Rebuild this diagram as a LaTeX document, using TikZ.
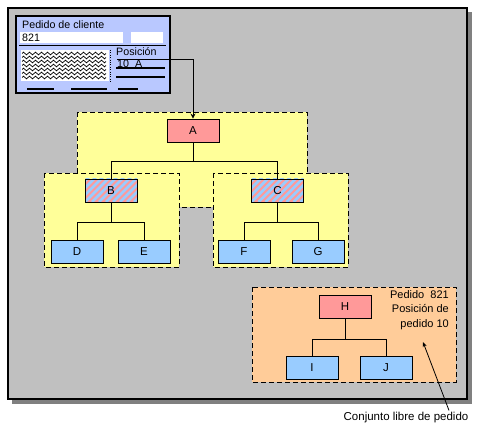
\documentclass[tikz,border=0pt]{standalone}
\usepackage{fontspec}
\setmainfont{Liberation Sans}
\usetikzlibrary{patterns,arrows.meta,decorations.pathmorphing}
\definecolor{panel}{RGB}{192,192,192}
\definecolor{shadowc}{RGB}{128,128,128}
\definecolor{yel}{RGB}{255,255,153}
\definecolor{pinkn}{RGB}{255,153,153}
\definecolor{bluen}{RGB}{153,204,255}
\definecolor{orng}{RGB}{255,204,153}
\definecolor{formblue}{RGB}{185,200,255}
\begin{document}
\begin{tikzpicture}[x=1pt,y=-1pt,
  every node/.style={font=\fontsize{11.5}{13}\selectfont},
  box/.style={draw, line width=0.9pt, minimum width=52pt, minimum height=23pt, inner sep=0pt},
  pinkbox/.style={box, fill=pinkn},
  bluebox/.style={box, fill=bluen},
  stripebox/.style={box, fill=pinkn, path picture={\foreach \k in {-70,-63,...,70} \draw[bluen, line width=2.6pt] ([xshift=\k pt]path picture bounding box.south west) -- ++(40pt,40pt);}},
  region/.style={draw, line width=0.9pt, dash pattern=on 5pt off 3pt},
  link/.style={line width=0.9pt},
  formtext/.style={anchor=west, inner sep=0pt, font=\fontsize{10.7}{12}\selectfont}
]
\useasboundingbox (0,0) rectangle (495,438);
% panel
\fill[shadowc] (12,12) rectangle (472,404);
\draw[fill=panel, line width=1.2pt] (8,8) rectangle (467,399);
% form
\draw[line width=2pt, fill=formblue] (16,16) rectangle (170,93);
\node[formtext] (ftitle) at (22,25) {Pedido de cliente};
\fill[white] (20,32) rectangle (123,43);
\fill[white] (131,32) rectangle (163,43);
\node[formtext] (fnum) at (22,38) {821};
\draw[line width=1.5pt] (19,45.5) -- (166,45.5);
\fill[white] (21,50) rectangle (109,81);
\foreach \yy in {53.5,57.5,...,78}
  \draw[line width=0.7pt, decorate, decoration={zigzag, segment length=6pt, amplitude=1.4pt}] (22,\yy) -- (106,\yy);
\draw[dotted] (110,50) -- (110,82);
\node[formtext] (fpos) at (116,52) {Posición};
\node[formtext] (fpos2) at (117,64) {10\ \ A};
\coordinate (fout) at (165,59);
\draw[line width=0.9pt] (117,59) -- (fout);
\draw[line width=1.5pt] (116,68) -- (165,68);
\draw[line width=1.2pt] (116,77) -- (165,77);
\draw[line width=2.5pt] (27,89) -- (54,89);
\draw[line width=2.5pt] (71,89) -- (107,89);
\draw[line width=2.5pt] (118,89) -- (138,89);
% regions
\draw[region, fill=yel] (77,112) rectangle (307,207);
\draw[region, fill=yel] (44,173) rectangle (179,267);
\draw[region, fill=yel] (213,173) rectangle (348,267);
\draw[region, fill=orng] (252,287) rectangle (456,382);
% nodes
\node[pinkbox] (A) at (193,130.5) {A};
\node[stripebox] (B) at (111,190.5) {B};
\node[stripebox] (C) at (277.5,190.5) {C};
\node[bluebox] (D) at (77,251.5) {D};
\node[bluebox] (E) at (144,251.5) {E};
\node[bluebox] (F) at (244,251.5) {F};
\node[bluebox] (G) at (318,251.5) {G};
\node[pinkbox] (H) at (345,306.5) {H};
\node[bluebox] (I) at (312,367.5) {I};
\node[bluebox] (J) at (386,367.5) {J};
% tree links
\draw[link] (A.south) -- +(0,19) -| (B.north);
\draw[link] (A.south) -- +(0,19) -| (C.north);
\draw[link] (B.south) -- +(0,20) -| (D.north);
\draw[link] (B.south) -- +(0,20) -| (E.north);
\draw[link] (C.south) -- +(0,20) -| (F.north);
\draw[link] (C.south) -- +(0,20) -| (G.north);
\draw[link] (H.south) -- +(0,21) -| (I.north);
\draw[link] (H.south) -- +(0,21) -| (J.north);
% form connector
\draw[link, -{Stealth[length=5pt,width=5pt]}] (fout) -| (A.north);
% labels
\node[anchor=north east, align=right, inner sep=0pt, font=\fontsize{11}{14.5}\selectfont] (hlabel) at (449,290) {Pedido\ \ 821\\Posición de\\pedido 10};
\node[inner sep=0pt] (clabel) at (406,418) {Conjunto libre de pedido};
\coordinate (ctarget) at (423,342);
\draw[line width=0.8pt, -{Stealth[length=5pt,width=4pt]}] ([xshift=43pt,yshift=2pt]clabel.north) -- (ctarget);
\end{tikzpicture}
\end{document}
